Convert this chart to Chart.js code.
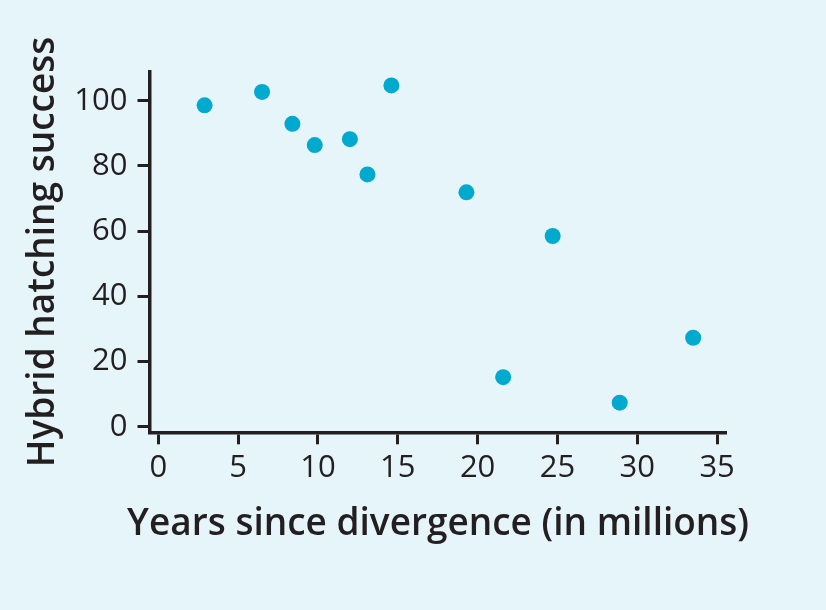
<!DOCTYPE html>
<html>
<head>
<meta charset="utf-8">
<script src="https://cdn.jsdelivr.net/npm/chart.js@4"></script>
<style>
  html, body { margin: 0; padding: 0; background: #e6f5fa; }
  #wrap { width: 826px; height: 610px; }
</style>
</head>
<body>
<div id="wrap"><canvas id="c" width="826" height="610"></canvas></div>
<script>
// Data
const yearsSinceDivergence = [2.9, 6.5, 8.4, 9.8, 12.0, 13.1, 14.6, 19.3, 24.7, 21.6, 28.9, 33.5];
const hatchingSuccess      = [98.6, 102.7, 92.9, 86.4, 88.2, 77.4, 104.7, 71.9, 58.5, 15.2, 7.4, 27.3];
const xTickValues = [0, 5, 10, 15, 20, 25, 30, 35];
const yTickValues = [0, 20, 40, 60, 80, 100];
const xTitle = 'Years since divergence (in millions)';
const yTitle = 'Hybrid hatching success';

const points = yearsSinceDivergence.map((x, i) => ({ x: x, y: hatchingSuccess[i] }));

const ink = '#231f20';
const tickFont = { family: "'Open Sans'", size: 31, weight: 'normal', lineHeight: 1 };
const yTitleFont = { family: "'Open Sans'", size: 37, weight: '600', lineHeight: 1 };

// x-axis title drawn wider than the plot area (as in the reference), centred under the x scale
const xTitlePlugin = {
  id: 'xTitlePlugin',
  afterDraw(chart) {
    const s = chart.scales.x;
    const ctx = chart.ctx;
    ctx.save();
    ctx.font = "600 37px 'Open Sans'";
    ctx.fillStyle = ink;
    ctx.textAlign = 'center';
    ctx.textBaseline = 'middle';
    ctx.fillText(xTitle, (s.left + s.right) / 2, s.bottom - 85.3);
    ctx.restore();
  }
};

new Chart(document.getElementById('c'), {
  type: 'scatter',
  data: {
    datasets: [{
      data: points,
      backgroundColor: '#00a9ce',
      borderColor: '#00a9ce',
      borderWidth: 0,
      pointRadius: 8,
      pointHoverRadius: 8,
      clip: false
    }]
  },
  plugins: [xTitlePlugin],
  options: {
    responsive: false,
    animation: false,
    events: [],
    layout: { padding: { left: 0, top: 71.7, right: 99.3, bottom: 0 } },
    plugins: { legend: { display: false }, tooltip: { enabled: false } },
    scales: {
      x: {
        type: 'linear',
        min: -0.55,
        max: 35.6,
        afterBuildTicks: s => { s.ticks = xTickValues.map(v => ({ value: v })); },
        afterFit: s => { s.height = 177.7; },
        border: { display: true, color: ink, width: 3.5 },
        grid: { display: true, drawOnChartArea: false, drawTicks: true, tickLength: 12, tickWidth: 3, tickColor: ink },
        ticks: { color: ink, font: tickFont, padding: 8, maxRotation: 0, autoSkip: false },
        title: { display: false, text: xTitle }
      },
      y: {
        type: 'linear',
        min: -1.7,
        max: 108.9,
        afterBuildTicks: s => { s.ticks = yTickValues.map(v => ({ value: v })); },
        afterFit: s => { s.width = 149.5; },
        border: { display: true, color: ink, width: 3.5 },
        grid: { display: true, drawOnChartArea: false, drawTicks: true, tickLength: 12, tickWidth: 3, tickColor: ink },
        ticks: { color: ink, font: tickFont, padding: 10, autoSkip: false },
        title: { display: true, text: yTitle, color: ink, font: yTitleFont, padding: { top: 25, bottom: 0 } }
      }
    }
  }
});
</script>
</body>
</html>
